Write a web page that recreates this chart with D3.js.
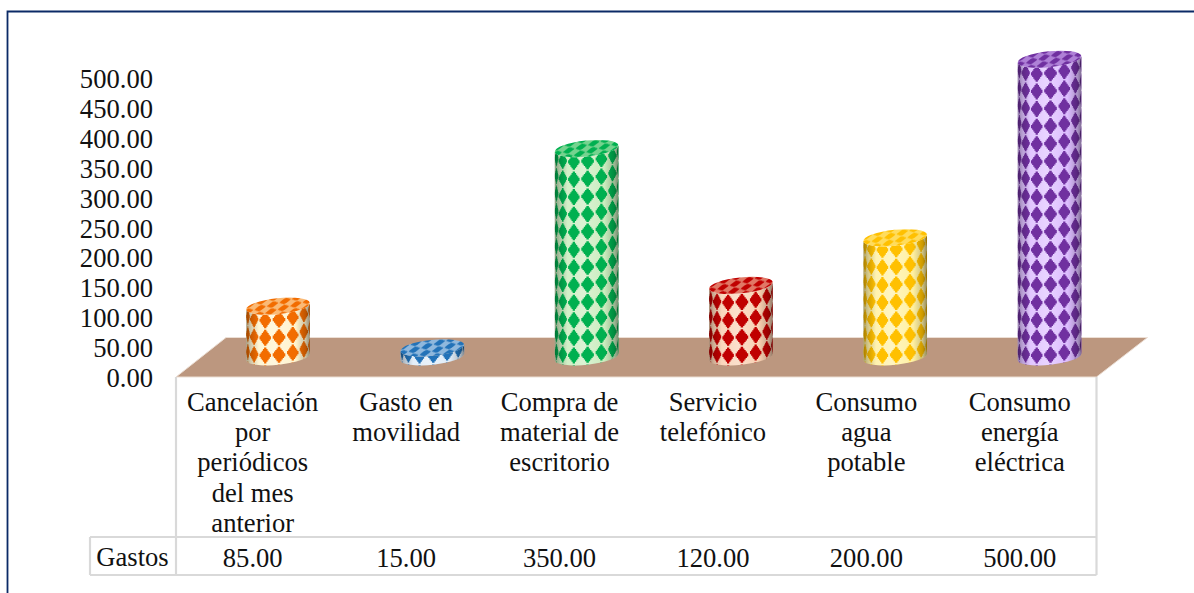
<!DOCTYPE html>
<html>
<head>
<meta charset="utf-8">
<script src="https://cdn.jsdelivr.net/npm/d3@7"></script>
<style>
  html, body { margin: 0; background: #fff; }
  svg { display: block; }
  text { font-family: "Liberation Serif", serif; fill: #111; }
</style>
</head>
<body>
<svg id="chart" width="1194" height="593"></svg>
<script>
const categories = [
  ["Cancelación", "por", "periódicos", "del mes", "anterior"],
  ["Gasto en", "movilidad"],
  ["Compra de", "material de", "escritorio"],
  ["Servicio", "telefónico"],
  ["Consumo", "agua", "potable"],
  ["Consumo", "energía", "eléctrica"]
]
const values = [85, 15, 350, 120, 200, 500]
const valueLabels = ["85.00", "15.00", "350.00", "120.00", "200.00", "500.00"]
const yTicks = [0, 50, 100, 150, 200, 250, 300, 350, 400, 450, 500]
const lightColors = ["#fff3cc", "#deebf7", "#c9ecbd", "#f9cfb0", "#fff0a0", "#dcbcff"]
const darkColors = ["#f26c00", "#2272b8", "#00b050", "#c00000", "#ffc000", "#7030a0"]
const seriesName = "Gastos"

const svg = d3.select("#chart")
const fontSize = 26.6
const depth = { x: 50, y: 39.5 }
const plot = { left: 176, right: 1096.5, bottom: 377, top: 78 }
const table = { left: 90, rowTop: 537, bottom: 575 }
const gridColor = "#d9d9d9"

const xScale = d3.scaleBand().domain(d3.range(categories.length)).range([plot.left, plot.right])
const yScale = d3.scaleLinear().domain([0, 500]).range([plot.bottom, plot.top])
// cylinders stand in the middle of the floor depth
const xBar = d3.scaleBand().domain(d3.range(categories.length)).range([200.85, 1126.65])
const yBar = d3.scaleLinear().domain([0, 500]).range([356.8, 59.3])

// outer frame, only top and left are inside the picture
svg.append("path")
  .attr("d", "M7.5,593V11.5H1194")
  .attr("fill", "none")
  .attr("stroke", "#0b2a66")
  .attr("stroke-width", 1.8)

// y axis
let yAxis = d3.axisLeft(yScale)
  .tickValues(yTicks)
  .tickFormat(d3.format(".2f"))
  .tickSize(0)
  .tickPadding(23)
let yg = svg.append("g")
  .attr("transform", `translate(${plot.left}, 1)`)
  .call(yAxis)
yg.select(".domain").remove()
yg.selectAll("text")
  .attr("font-size", fontSize)
  .attr("font-family", null)
  .attr("fill", null)

// floor
svg.append("path")
  .attr("d", `M${plot.left},${plot.bottom}L${plot.right},${plot.bottom}L${plot.right + depth.x + 1},${plot.bottom - depth.y}L${plot.left + depth.x},${plot.bottom - depth.y}Z`)
  .attr("fill", "#bc977f")
  .attr("stroke", "#ecdfd5")
  .attr("stroke-width", 1)

// data table grid
let grid = svg.append("g")
  .attr("fill", "none")
  .attr("stroke", gridColor)
  .attr("stroke-width", 2.2)
grid.append("path").attr("d", `M${plot.left},${plot.bottom}V${table.bottom}`)
grid.append("path").attr("d", `M${plot.right},${plot.bottom}V${table.bottom}`)
grid.append("path").attr("d", `M${table.left},${table.rowTop}H${plot.right}`)
grid.append("path").attr("d", `M${table.left},${table.bottom}H${plot.right}`)
grid.append("path").attr("d", `M${table.left},${table.rowTop}V${table.bottom}`)

// category labels
let catGroup = svg.selectAll(".cat")
  .data(categories)
  .enter()
  .append("text")
  .classed("cat", true)
  .attr("text-anchor", "middle")
  .attr("font-size", fontSize)
catGroup.selectAll("tspan")
  .data((d, i) => d.map(line => ({ line, i })))
  .enter()
  .append("tspan")
  .attr("x", d => xScale(d.i) + xScale.bandwidth() / 2)
  .attr("y", (d, i) => 410.5 + i * 30.4)
  .text(d => d.line)

// value row
svg.selectAll(".val")
  .data(valueLabels)
  .enter()
  .append("text")
  .classed("val", true)
  .attr("x", (d, i) => xScale(i) + xScale.bandwidth() / 2)
  .attr("y", 566.5)
  .attr("text-anchor", "middle")
  .attr("font-size", fontSize)
  .text(d => d)
svg.append("text")
  .attr("x", 132.5)
  .attr("y", 565.5)
  .attr("text-anchor", "middle")
  .attr("font-size", fontSize)
  .text(seriesName)

// cylinders
const r = 32
const ry = 8
const tilt = 6 * Math.PI / 180
const rowStep = 17.6
const colAngles = [-3, -2, -1, 0, 1, 2, 3].map(k => k * 25.5 * Math.PI / 180)
const defs = svg.append("defs")

// jagged diamond, the original texture is a low res bitmap
function diamond(cx, cy, w, h) {
  let n = 5
  let pts = []
  for (let i = 0; i < n; i++) {
    pts.push([w * (i + 1) / n, -h + h * i / n], [w * (i + 1) / n, -h + h * (i + 1) / n])
  }
  for (let i = n - 1; i >= 0; i--) {
    pts.push([w * i / n + w / n, h - h * i / n - h / n], [w * i / n + w / n, h - h * i / n])
  }
  let left = pts.slice().reverse().map(p => [-p[0], p[1]])
  return "M" + pts.concat(left).map(p => `${(cx + p[0]).toFixed(2)},${(cy + p[1]).toFixed(2)}`).join("L") + "Z"
}

// light goes under the diamonds, dark edges go over them
let shine = defs.append("linearGradient").attr("id", "shine")
shine.selectAll("stop")
  .data([[0, "#fff", 0], [0.45, "#fff", 0.35], [0.8, "#fff", 0], [1, "#fff", 0]])
  .enter()
  .append("stop")
  .attr("offset", d => d[0])
  .attr("stop-color", d => d[1])
  .attr("stop-opacity", d => d[2])
let shade = defs.append("linearGradient").attr("id", "shade")
shade.selectAll("stop")
  .data([[0, "#000", 0.34], [0.07, "#000", 0.18], [0.2, "#000", 0], [0.78, "#000", 0], [0.93, "#000", 0.2], [1, "#000", 0.42]])
  .enter()
  .append("stop")
  .attr("offset", d => d[0])
  .attr("stop-color", d => d[1])
  .attr("stop-opacity", d => d[2])

values.forEach((v, i) => {
  let cx = xBar(i) + xBar.bandwidth() / 2
  let baseY = yBar(0)
  let topY = yBar(v)
  let dx = r * Math.cos(tilt)
  let dy = r * Math.sin(tilt)
  let rot = -tilt * 180 / Math.PI
  let body = `M${cx - dx},${topY + dy}L${cx - dx},${baseY + dy}A${r},${ry} ${rot} 0 0 ${cx + dx},${baseY - dy}L${cx + dx},${topY - dy}A${r},${ry} ${rot} 0 1 ${cx - dx},${topY + dy}Z`
  let g = svg.append("g")

  defs.append("clipPath").attr("id", `clip${i}`).append("path").attr("d", body)
  let pat = defs.append("pattern")
    .attr("id", `top${i}`)
    .attr("patternUnits", "userSpaceOnUse")
    .attr("width", 13)
    .attr("height", 6.2)
    .attr("patternTransform", `translate(${cx}, ${topY}) rotate(-10) skewX(-30)`)
  pat.append("rect")
    .attr("width", 13)
    .attr("height", 6.2)
    .attr("fill", d3.interpolateRgb(lightColors[i], darkColors[i])(0.42))
  pat.append("path")
    .attr("d", diamond(6.5, 3.1, 5.6, 2.8))
    .attr("fill", darkColors[i])

  g.append("path").attr("d", body).attr("fill", lightColors[i])
  g.append("path").attr("d", body).attr("fill", "url(#shine)")

  // diamonds wrap around the cylinder, so columns squeeze at the edges
  let marks = g.append("g").attr("clip-path", `url(#clip${i})`).attr("fill", darkColors[i])
  let rows = d3.range(-1, Math.ceil((baseY - topY) / rowStep) + 2)
  rows.forEach(k => {
    marks.selectAll(null)
      .data(colAngles)
      .enter()
      .append("path")
      .attr("d", a => {
        let x = cx + 1 + r * Math.sin(a)
        let y = baseY + ry * Math.cos(a) - r * Math.sin(a) * Math.sin(tilt) - 10 - k * rowStep
        return diamond(x, y, 5.8 * Math.cos(a) + 0.5, 8)
      })
  })
  g.append("path").attr("d", body).attr("fill", "url(#shade)")
  g.append("ellipse")
    .attr("cx", cx)
    .attr("cy", topY)
    .attr("rx", r)
    .attr("ry", ry)
    .attr("transform", `rotate(${rot}, ${cx}, ${topY})`)
    .attr("fill", `url(#top${i})`)
})
</script>
</body>
</html>
